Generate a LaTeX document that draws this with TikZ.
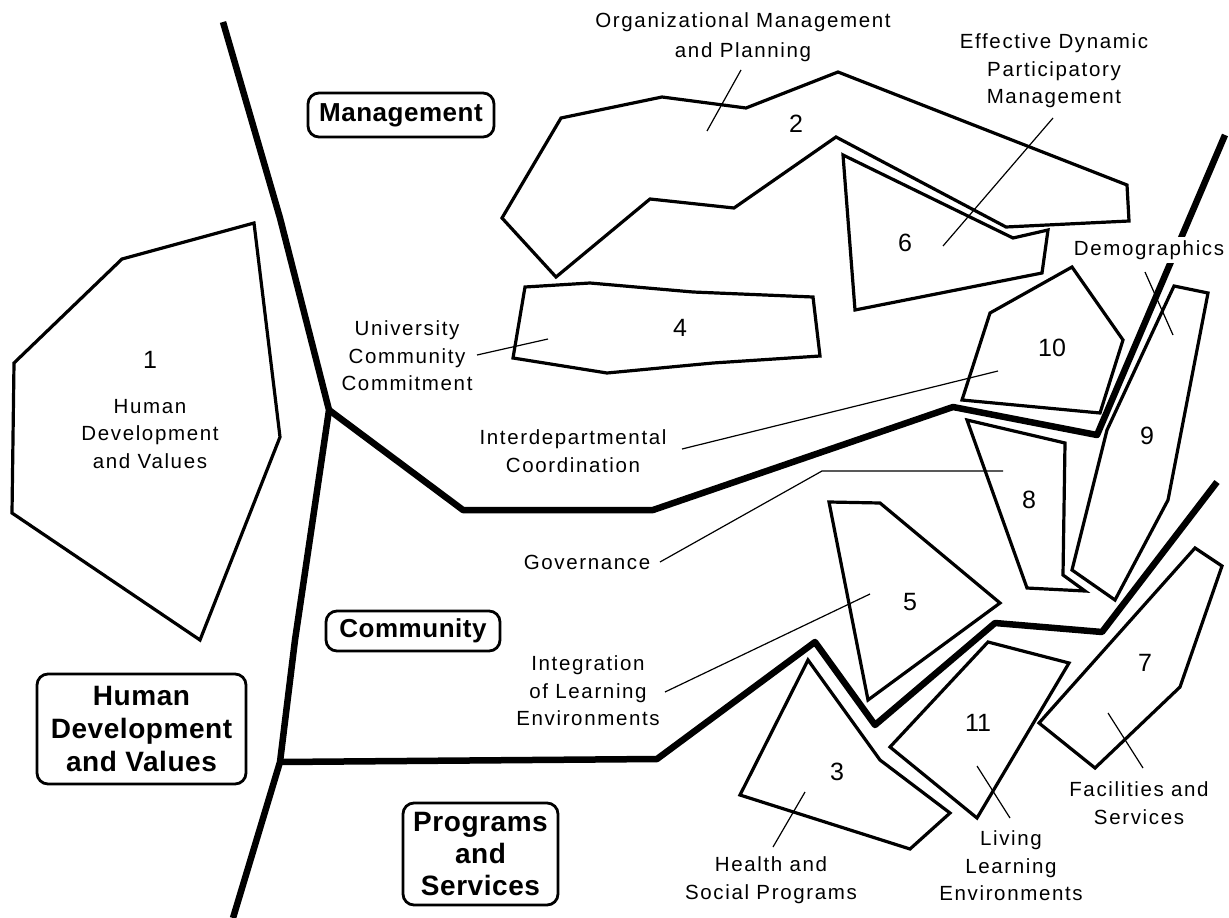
\documentclass[tikz,border=0pt]{standalone}
\usepackage{fontspec}
\setmainfont{Liberation Sans}
\newfontfamily\lblfont{Liberation Sans}[LetterSpace=8]
\newfontfamily\boxfont{Liberation Sans}[LetterSpace=2]
\begin{document}
\begin{tikzpicture}[x=1pt,y=-1pt,
  poly/.style={draw, line width=3.2pt, line join=miter},
  divider/.style={draw, line width=6.5pt, line join=round},
  leader/.style={draw, line width=1.2pt},
  lbl/.style={inner sep=0pt, align=center, font=\lblfont\fontsize{20.5}{27.5}\selectfont},
  num/.style={inner sep=0pt, font=\fontsize{25}{25}\selectfont},
  areabox/.style={draw, line width=2.8pt, rounded corners=11pt, inner sep=0pt, align=center,
    font=\boxfont\bfseries\fontsize{26}{32}\selectfont}]
\useasboundingbox (0,0) rectangle (1229,918);

% ---- dividing lines ----
\coordinate (jA) at (329,410);
\coordinate (jB) at (280,762);
\draw[divider] (223,22) -- (280,218) -- (jA) -- (295,640) -- (jB) -- (233,918);
\draw[divider] (jA) -- (463,510) -- (653,510) -- (953,407) -- (1097,435) -- (1225,135);
\draw[divider] (jB) -- (657,759) -- (815,642) -- (875,725) -- (995,623) -- (1102,632) -- (1217,482);

% ---- polygons ----
\draw[poly] (254,223) -- (122,259) -- (14,363) -- (12,513) -- (200,640) -- (280,437) -- cycle;
\draw[poly] (561,118) -- (662,97) -- (746,108) -- (838,72) -- (1127,185) -- (1129,221) -- (1006,227)
  -- (836,137) -- (734,208) -- (650,199) -- (556,277) -- (502,218) -- cycle;
\draw[poly] (843,155) -- (1013,238) -- (1048,230) -- (1042,273) -- (855,310) -- cycle;
\draw[poly] (525,287) -- (590,283) -- (693,292) -- (813,297) -- (820,356) -- (713,363) -- (607,373) -- (513,358) -- cycle;
\draw[poly] (1072,267) -- (1123,340) -- (1100,413) -- (962,400) -- (990,313) -- cycle;
\draw[poly] (1174,286) -- (1208,293) -- (1168,500) -- (1115,600) -- (1072,570) -- (1107,430) -- cycle;
\draw[poly] (967,420) -- (1065,443) -- (1063,575) -- (1085,591) -- (1027,588) -- cycle;
\draw[poly] (829,502) -- (880,503) -- (1000,603) -- (868,700) -- cycle;
\draw[poly] (1195,548) -- (1222,566) -- (1180,687) -- (1095,768) -- (1039,723) -- cycle;
\draw[poly] (988,642) -- (1069,663) -- (977,818) -- (890,747) -- cycle;
\draw[poly] (808,660) -- (880,760) -- (950,813) -- (910,849) -- (740,795) -- cycle;

% ---- numbers ----
\node[num] (n1) at (150,360) {1};
\node[num] (n2) at (796,124) {2};
\node[num] (n3) at (837,772) {3};
\node[num] (n4) at (680,328) {4};
\node[num] (n5) at (910,602) {5};
\node[num] (n6) at (905,243) {6};
\node[num] (n7) at (1145,663) {7};
\node[num] (n8) at (1029,500) {8};
\node[num] (n9) at (1147,436) {9};
\node[num] (n10) at (1052,348) {10};
\node[num] (n11) at (978,723) {11};

% ---- area boxes ----
\node[areabox, minimum width=186pt, minimum height=44pt] (bMan) at (401,115) {Management};
\node[areabox, minimum width=174pt, minimum height=40pt] (bCom) at (413,631) {Community};
\node[areabox, minimum width=209pt, minimum height=110pt, font=\boxfont\bfseries\fontsize{28}{33}\selectfont] (bHDV) at (141.5,729) {Human\\Development\\and Values};
\node[areabox, minimum width=155pt, minimum height=102pt, font=\boxfont\bfseries\fontsize{28}{32}\selectfont] (bPS) at (480.5,854) {Programs\\and\\Services};

% ---- labels ----
\node[lbl, font=\lblfont\fontsize{20.5}{30}\selectfont] (tOrg) at (743,37) {Organizational Management\\and Planning};
\node[lbl] (tEff) at (1054,71) {Effective Dynamic\\Participatory\\Management};
\node[lbl, fill=white, inner sep=3pt] (tDem) at (1149,250) {Demographics};
\node[lbl] (tUni) at (407,356) {University\\Community\\Commitment};
\node[lbl] (tHum) at (150,434) {Human\\Development\\and Values};
\node[lbl] (tInt) at (573,451) {Interdepartmental\\Coordination};
\node[lbl] (tGov) at (587,562) {Governance};
\node[lbl] (tILE) at (588,691) {Integration\\of Learning\\Environments};
\node[lbl] (tHea) at (771,880) {Health and\\Social Programs};
\node[lbl] (tLLE) at (1011,866) {Living\\Learning\\Environments};
\node[lbl] (tFac) at (1139,803) {Facilities and\\Services};

% ---- leader lines ----
\coordinate (a2) at (741,70);   \coordinate (b2) at (707,131);
\coordinate (a6) at (1053,118); \coordinate (b6) at (943,246);
\coordinate (a4) at (477,355);  \coordinate (b4) at (548,339);
\coordinate (aD) at (1145,272); \coordinate (bD) at (1173,335);
\coordinate (a10) at (682,449); \coordinate (b10) at (998,371);
\coordinate (a8) at (660,562);  \coordinate (m8) at (822,471); \coordinate (b8) at (1003,471);
\coordinate (a5) at (665,692);  \coordinate (b5) at (870,594);
\coordinate (a3) at (773,847);  \coordinate (b3) at (805,792);
\coordinate (a11) at (1010,818); \coordinate (b11) at (977,766);
\coordinate (a7) at (1143,768); \coordinate (b7) at (1108,713);
\draw[leader] (a2) -- (b2);
\draw[leader] (a6) -- (b6);
\draw[leader] (a4) -- (b4);
\draw[leader] (aD) -- (bD);
\draw[leader] (a10) -- (b10);
\draw[leader] (a8) -- (m8) -- (b8);
\draw[leader] (a5) -- (b5);
\draw[leader] (a3) -- (b3);
\draw[leader] (a11) -- (b11);
\draw[leader] (a7) -- (b7);
\end{tikzpicture}
\end{document}
